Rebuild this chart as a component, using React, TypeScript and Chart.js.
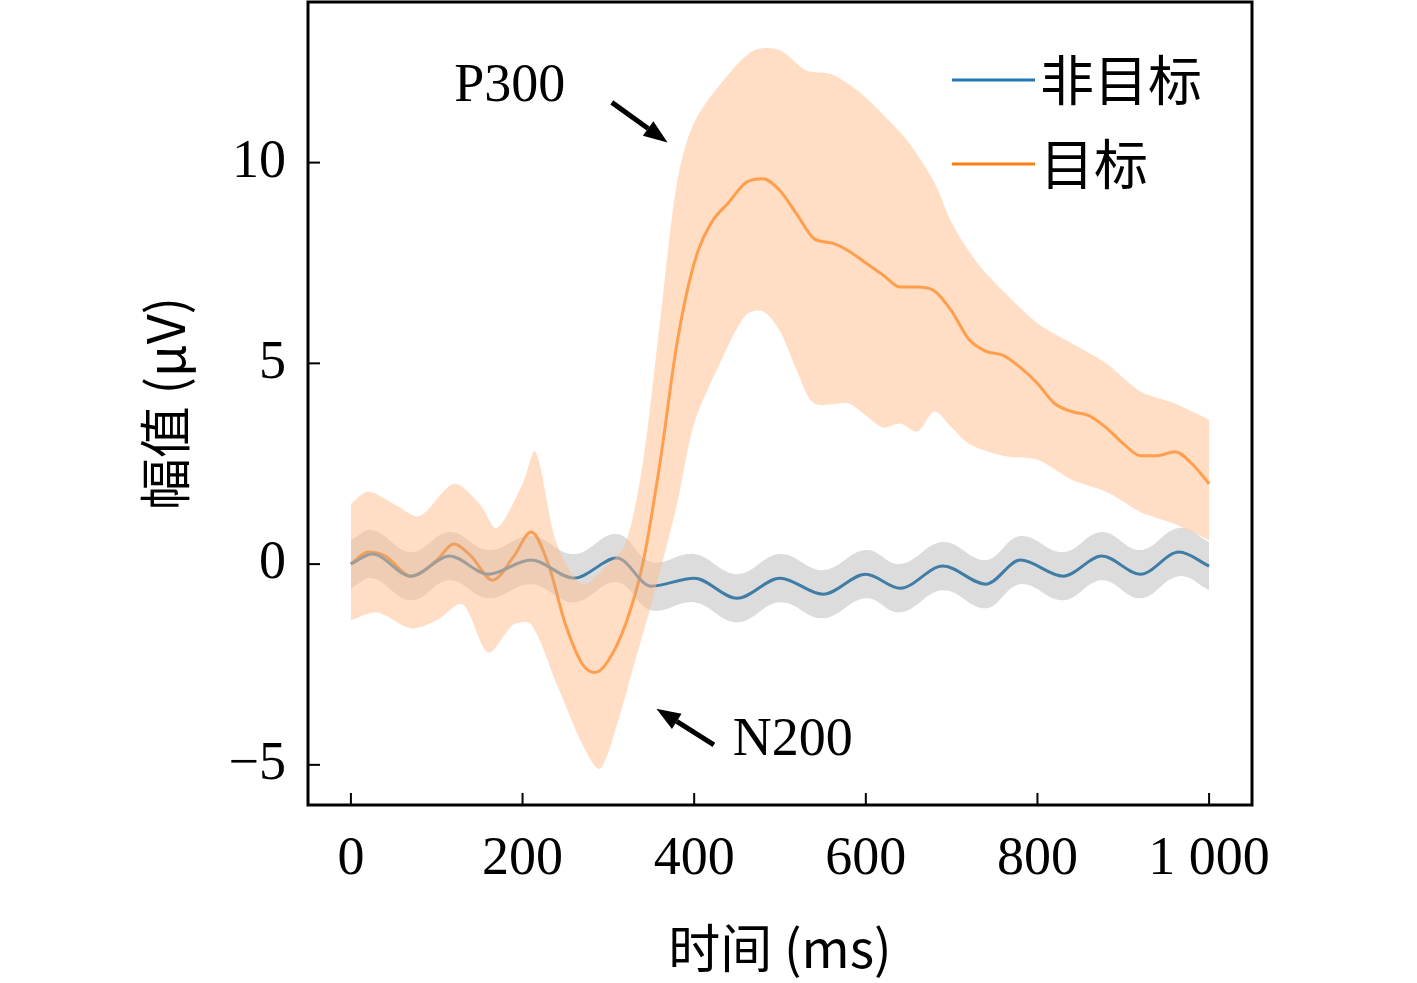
import React, { useEffect, useRef } from "react";
import { Chart, registerables } from "chart.js";
Chart.register(...registerables);

const orangeX = [0,20,40,70,100,120,140,165,190,210,230,250,270,285,300,320,340,360,380,400,420,440,460,480,500,520,540,560,580,600,620,640,660,680,700,720,740,760,780,800,820,840,860,880,900,920,940,960,980,1000];
const orangeY = [0,0.3,0.2,-0.3,0.1,0.5,0.2,-0.4,0.2,0.8,0,-1.5,-2.5,-2.7,-2.4,-1.5,0,2.5,5.5,7.5,8.5,9,9.5,9.6,9.3,8.7,8.1,8,7.8,7.5,7.2,6.9,6.9,6.8,6.3,5.6,5.3,5.2,4.9,4.5,4.0,3.8,3.7,3.4,3.0,2.7,2.7,2.8,2.5,2.0];
const orangeUpX = [0,20,50,80,120,150,170,200,215,240,270,300,320,340,360,380,400,440,470,500,530,560,590,620,650,680,700,730,760,800,840,880,920,960,1000];
const orangeUpY = [1.5,1.8,1.5,1.2,2.0,1.5,0.9,2.0,2.8,0.5,-0.5,0,0.5,2.5,6,9.5,11,12.2,12.8,12.8,12.3,12.2,11.8,11.2,10.5,9.5,8.5,7.5,6.8,6.0,5.5,5.0,4.3,4.0,3.6];
const orangeLoX = [0,30,70,100,130,160,190,210,240,270,290,310,330,350,380,400,430,460,480,500,520,540,580,600,620,640,660,680,700,720,760,800,840,880,920,960,1000];
const orangeLoY = [-1.4,-1.2,-1.6,-1.4,-1.0,-2.2,-1.5,-1.5,-3.0,-4.5,-5.1,-4.0,-2.5,-1.0,1.5,3.5,5.0,6.2,6.3,5.8,4.8,4.0,4.0,3.7,3.4,3.5,3.3,3.8,3.4,3.0,2.7,2.6,2.1,1.8,1.3,1.0,0.6];
const blueX = [0,25,70,115,160,210,260,310,350,400,450,500,550,600,640,690,740,780,830,875,920,965,1000];
const blueY = [0,0.25,-0.3,0.2,-0.25,0.1,-0.35,0.15,-0.55,-0.35,-0.85,-0.35,-0.75,-0.25,-0.6,-0.05,-0.5,0.1,-0.3,0.2,-0.25,0.3,-0.05];
const blueBand = 0.6;
const xTicks = [0,200,400,600,800,1000];
const xTickLabels = ["0","200","400","600","800","1 000"];
const yTicks = [-5,0,5,10];
const yTickLabels = ["−5","0","5","10"];
const legendLabels = ["非目标","目标"];
const yTitle = "幅值 (μV)";
const notes = [
  { text: "P300", tx: 185, ty: 11.9, ax0: 304, ay0: 11.5, ax1: 369, ay1: 10.5 },
  { text: "N200", tx: 515, ty: -4.4, ax0: 423, ay0: -4.5, ax1: 356, ay1: -3.6 },
];

const BLUE = "#1f77b4", ORANGE = "#ff7f0e";
const SERIF = "'Liberation Serif','DejaVu Serif','Noto Sans CJK SC',serif";
const CJK = "'Noto Sans CJK SC','Liberation Serif',serif";
const pts = (xs: number[], ys: number[]) => xs.map((x, i) => ({ x, y: ys[i] }));

export default function App() {
  const ref = useRef<HTMLCanvasElement>(null);
  useEffect(() => {
    document.body.style.margin = "0";
    const deco = {
      id: "deco",
      afterDraw(c: any) {
        const ctx = c.ctx, a = c.chartArea, xs = c.scales.x, ys = c.scales.y;
        ctx.save();
        ctx.strokeStyle = "#000"; ctx.lineWidth = 3;
        ctx.strokeRect(a.left, a.top, a.right - a.left, a.bottom - a.top);
        ctx.lineWidth = 2;
        for (const t of xTicks) { const px = xs.getPixelForValue(t); ctx.beginPath(); ctx.moveTo(px, a.bottom); ctx.lineTo(px, a.bottom - 12); ctx.stroke(); }
        for (const t of yTicks) { const py = ys.getPixelForValue(t); ctx.beginPath(); ctx.moveTo(a.left, py); ctx.lineTo(a.left + 12, py); ctx.stroke(); }
        ctx.fillStyle = "#000"; ctx.font = `54px ${SERIF}`; ctx.textAlign = "center"; ctx.textBaseline = "middle";
        for (const n of notes) {
          ctx.fillText(n.text, xs.getPixelForValue(n.tx), ys.getPixelForValue(n.ty));
          const x0 = xs.getPixelForValue(n.ax0), y0 = ys.getPixelForValue(n.ay0);
          const x1 = xs.getPixelForValue(n.ax1), y1 = ys.getPixelForValue(n.ay1);
          const ang = Math.atan2(y1 - y0, x1 - x0), L = 24, W = 9;
          const bx = x1 - L * Math.cos(ang), by = y1 - L * Math.sin(ang);
          ctx.lineWidth = 5; ctx.beginPath(); ctx.moveTo(x0, y0); ctx.lineTo(bx, by); ctx.stroke();
          ctx.beginPath(); ctx.moveTo(x1, y1);
          ctx.lineTo(bx + W * Math.sin(ang), by - W * Math.cos(ang));
          ctx.lineTo(bx - W * Math.sin(ang), by + W * Math.cos(ang));
          ctx.closePath(); ctx.fill();
        }
        // y title
        ctx.save();
        ctx.translate(165, (a.top + a.bottom) / 2);
        ctx.rotate(-Math.PI / 2);
        ctx.font = `52px ${CJK}`; ctx.fillText(yTitle, 0, 0);
        ctx.restore();
        // legend
        ctx.textAlign = "left"; ctx.font = `54px ${CJK}`;
        [BLUE, ORANGE].forEach((col, i) => {
          const y = 80 + i * 84;
          ctx.strokeStyle = col; ctx.lineWidth = 3;
          ctx.beginPath(); ctx.moveTo(952, y); ctx.lineTo(1035, y); ctx.stroke();
          ctx.fillStyle = "#000"; ctx.fillText(legendLabels[i], 1040, y);
        });
        ctx.restore();
      },
    };
    const chart = new Chart(ref.current!, {
      type: "line",
      data: {
        datasets: [
          { data: pts(orangeUpX, orangeUpY), borderWidth: 0, pointRadius: 0, fill: "+1", backgroundColor: "rgba(255,190,140,0.5)", tension: 0.3 },
          { data: pts(orangeLoX, orangeLoY), borderWidth: 0, pointRadius: 0, fill: false, tension: 0.3 },
          { data: pts(blueX, blueY.map(v => v + blueBand)), borderWidth: 0, pointRadius: 0, fill: "+1", backgroundColor: "rgba(140,140,140,0.3)", tension: 0.4 },
          { data: pts(blueX, blueY.map(v => v - blueBand)), borderWidth: 0, pointRadius: 0, fill: false, tension: 0.4 },
          { data: pts(blueX, blueY), borderColor: BLUE, borderWidth: 3, pointRadius: 0, fill: false, cubicInterpolationMode: "monotone" },
          { data: pts(orangeX, orangeY), borderColor: ORANGE, borderWidth: 3, pointRadius: 0, fill: false, cubicInterpolationMode: "monotone" },
        ] as any,
      },
      options: {
        animation: false, responsive: false,
        layout: { padding: { top: 2, right: 165, left: 0, bottom: 0 } },
        plugins: { legend: { display: false }, tooltip: { enabled: false } },
        scales: {
          x: {
            type: "linear", min: -50, max: 1050,
            afterBuildTicks: (s: any) => { s.ticks = xTicks.map(v => ({ value: v })); },
            afterFit: (s: any) => { s.height = 178; s.paddingLeft = 0; s.paddingRight = 0; },
            ticks: { autoSkip: false, maxRotation: 0, padding: 14, color: "#000", font: { size: 54, family: SERIF }, callback: (v: any) => xTickLabels[xTicks.indexOf(v)] ?? "" },
            grid: { display: false }, border: { display: false },
            title: { display: true, text: "时间 (ms)", color: "#000", font: { size: 52, family: CJK }, padding: { top: -8 } },
          },
          y: {
            min: -6, max: 14,
            afterBuildTicks: (s: any) => { s.ticks = yTicks.map(v => ({ value: v })); },
            afterFit: (s: any) => { s.width = 308; s.paddingTop = 0; s.paddingBottom = 0; },
            ticks: { padding: 14, color: "#000", font: { size: 54, family: SERIF }, callback: (v: any) => yTickLabels[yTicks.indexOf(v)] ?? "" },
            grid: { display: false }, border: { display: false },
          },
        },
      },
      plugins: [deco],
    });
    return () => chart.destroy();
  }, []);
  return <div style={{ position: "absolute", left: 0, top: 0 }}><canvas ref={ref} width={1417} height={983} style={{ width: 1417, height: 983 }} /></div>;
}
